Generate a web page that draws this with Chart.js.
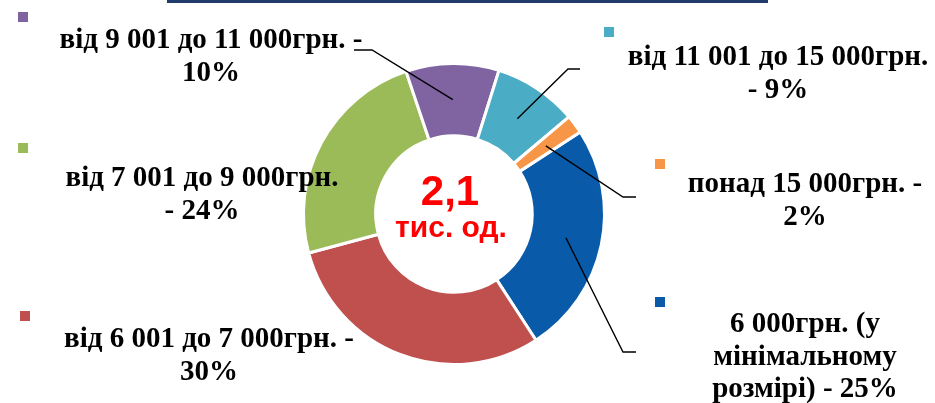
<!DOCTYPE html>
<html>
<head>
<meta charset="utf-8">
<script src="https://cdn.jsdelivr.net/npm/chart.js@4/dist/chart.umd.min.js"></script>
<style>
  html, body { margin: 0; padding: 0; background: #fff; }
  #wrap { width: 935px; height: 403px; position: relative; }
</style>
</head>
<body>
<div id="wrap"><canvas id="chart"></canvas></div>
<script>
// data
const categories = [
  "6 000грн. (у мінімальному розмірі)",
  "від 6 001 до 7 000грн.",
  "від 7 001 до 9 000грн.",
  "від 9 001 до 11 000грн.",
  "від 11 001 до 15 000грн.",
  "понад 15 000грн.",
];
const shares = [25, 30, 24, 10, 9, 2];
const totalText = ["2,1", "тис. од."];
// how each label breaks into lines
const labelLines = [
  ["6 000грн. (у", "мінімальному", "розмірі) - 25%"],
  ["від 6 001 до 7 000грн. -", "30%"],
  ["від 7 001 до 9 000грн.", "- 24%"],
  ["від 9 001 до 11 000грн. -", "10%"],
  ["від 11 001 до 15 000грн.", "- 9%"],
  ["понад 15 000грн. -", "2%"],
];

const colors = ["#095BAA", "#C0504D", "#9BBB59", "#8064A2", "#4BACC6", "#F79646"];

// label placement: text centre x, first baseline, marker square, leader elbow/end
const layout = [
  { x: 805, y: 332, sq: [655, 297], lead: [[623, 352], [636, 352]] },
  { x: 209, y: 347, sq: [20, 311] },
  { x: 202, y: 186, sq: [18, 143] },
  { x: 211, y: 48, sq: [18, 12], lead: [[372, 50], [354, 50]] },
  { x: 778, y: 65, sq: [604, 27], lead: [[568, 69], [580, 69]] },
  { x: 805, y: 192, sq: [655, 159], lead: [[623, 197], [636, 197]] },
];

const labelsPlugin = {
  id: "labelsPlugin",
  afterDraw(chart) {
    const c = chart.ctx;
    const arcs = chart.getDatasetMeta(0).data;
    c.save();

    // thin rule at the top edge
    c.fillStyle = "#1F3A6B";
    c.fillRect(167, 0, 601, 3);

    // leader lines
    c.strokeStyle = "#000";
    c.lineWidth = 1.4;
    arcs.forEach((arc, i) => {
      const l = layout[i].lead;
      if (!l) return;
      const p = arc.tooltipPosition();
      c.beginPath();
      c.moveTo(p.x, p.y);
      c.lineTo(l[0][0], l[0][1]);
      c.lineTo(l[1][0], l[1][1]);
      c.stroke();
    });

    // markers and text
    c.font = "bold 29px 'Liberation Serif', 'Times New Roman', serif";
    c.textAlign = "center";
    c.textBaseline = "alphabetic";
    labelLines.forEach((lines, i) => {
      const L = layout[i];
      c.fillStyle = colors[i];
      c.fillRect(L.sq[0], L.sq[1], 10, 10);
      c.fillStyle = "#000";
      lines.forEach((t, k) => c.fillText(t, L.x, L.y + k * 32.5));
    });

    // centre text
    const cx = arcs[0].x, cy = arcs[0].y;
    c.fillStyle = "#FF0000";
    c.font = "bold 42px 'Liberation Sans', Arial, sans-serif";
    c.fillText(totalText[0], cx - 4, cy - 9);
    c.font = "bold 30px 'Liberation Sans', Arial, sans-serif";
    c.fillText(totalText[1], cx - 3, cy + 23);
    c.restore();
  },
};

new Chart(document.getElementById("chart"), {
  type: "doughnut",
  data: {
    labels: categories,
    datasets: [
      {
        data: shares,
        backgroundColor: colors,
        borderColor: "#fff",
        borderWidth: 3,
      },
    ],
  },
  options: {
    responsive: true,
    maintainAspectRatio: false,
    animation: false,
    rotation: 57,
    cutout: "52%",
    layout: { padding: { top: 62, bottom: 37, left: 302, right: 329 } },
    plugins: {
      legend: { display: false },
      tooltip: { enabled: false },
    },
  },
  plugins: [labelsPlugin],
});
</script>
</body>
</html>
